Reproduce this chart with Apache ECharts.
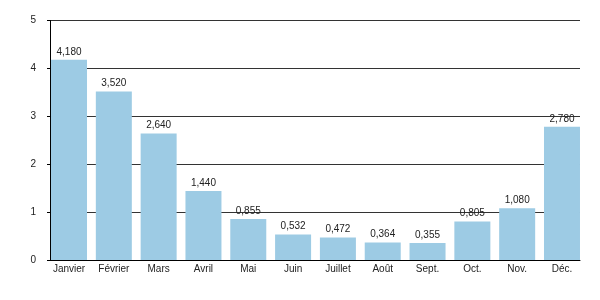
<!DOCTYPE html>
<html><head><meta charset="utf-8">
<script src="https://cdn.jsdelivr.net/npm/echarts@6/dist/echarts.min.js"></script>
<style>html,body{margin:0;padding:0;background:#fff}#c{width:600px;height:300px}</style>
</head><body><div id="c"></div>
<script>
const categories = ['Janvier','Février','Mars','Avril','Mai','Juin','Juillet','Août','Sept.','Oct.','Nov.','Déc.'];
const values = [4.18, 3.52, 2.64, 1.44, 0.855, 0.532, 0.472, 0.364, 0.355, 0.805, 1.08, 2.78];
const yTicks = [0, 1, 2, 3, 4, 5];

const font = 'Liberation Sans, Arial, Helvetica, sans-serif';
const chart = echarts.init(document.getElementById('c'), null, {renderer: 'canvas'});
chart.setOption({
  animation: false,
  backgroundColor: '#fff',
  grid: [
    {left: 50, right: 20, top: 20.5, bottom: 40},
    {left: 46.6, right: 15.6, top: 20.5, bottom: 40}
  ],
  xAxis: [
    {gridIndex: 0, type: 'category', data: categories,
     axisLine: {lineStyle: {color: '#000', width: 1}}, axisTick: {show: false}, axisLabel: {show: false}},
    {gridIndex: 1, type: 'category', data: categories,
     axisLine: {show: false}, axisTick: {show: false},
     axisLabel: {color: '#222', fontSize: 10, fontFamily: font, margin: 4}}
  ],
  yAxis: [
    {gridIndex: 0, type: 'value', min: yTicks[0], max: yTicks[yTicks.length-1], interval: 1,
     axisLine: {show: true, lineStyle: {color: '#000', width: 1}},
     axisTick: {show: true, length: 3, lineStyle: {color: '#000'}},
     axisLabel: {color: '#222', fontSize: 10, fontFamily: font, margin: 14},
     splitLine: {show: true, lineStyle: {color: '#333', width: 1}}},
    {gridIndex: 1, type: 'value', min: 0, max: 5, show: false, splitLine: {show: false}}
  ],
  series: [{
    type: 'bar', xAxisIndex: 1, yAxisIndex: 1, data: values, barWidth: 36,
    itemStyle: {color: '#9dcbe4'},
    label: {show: true, position: 'top', distance: 3, color: '#222', fontSize: 10, fontFamily: font,
      formatter: p => p.value.toFixed(3).replace('.', ',')}
  }]
});
</script></body></html>
